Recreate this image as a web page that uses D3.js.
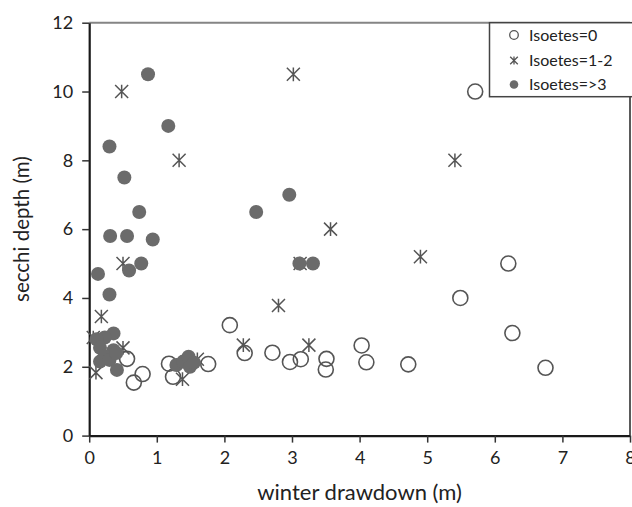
<!DOCTYPE html>
<html><head><meta charset="utf-8">
<script src="https://cdn.jsdelivr.net/npm/d3@7"></script>
<style>html,body{margin:0;padding:0;background:#fff;} svg{display:block;font-family:Lato,'Open Sans',sans-serif;}</style>
</head><body><svg id="c" width="632" height="507"></svg>
<script>
const xTicks = [0,1,2,3,4,5,6,7,8];
const yTicks = [0,2,4,6,8,10,12];
const xTitle = "winter drawdown (m)";
const yTitle = "secchi depth (m)";
const seriesNames = ["Isoetes=0","Isoetes=1-2","Isoetes=>3"];
// [winter drawdown, secchi depth]
const isoetes0 = [[0.56,2.23],[0.66,1.54],[0.79,1.79],[1.18,2.09],[1.24,1.71],[1.76,2.08],[2.08,3.21],[2.30,2.40],[2.71,2.41],[2.97,2.14],[3.13,2.22],[3.51,2.23],[3.50,1.92],[4.03,2.62],[4.10,2.13],[4.72,2.07],[5.49,4.0],[5.71,10.0],[6.20,5.0],[6.26,2.98],[6.75,1.97]];
const isoetes12 = [[0.10,1.83],[0.06,2.85],[0.18,3.46],[0.50,2.55],[0.50,5.0],[0.48,10.0],[1.33,8.0],[1.38,1.64],[1.60,2.22],[2.28,2.63],[2.80,3.78],[3.02,10.5],[3.12,5.0],[3.25,2.63],[3.57,6.0],[4.90,5.2],[5.41,8.0]];
const isoetes3 = [[0.87,10.5],[1.17,9.0],[0.30,8.4],[0.52,7.5],[0.74,6.5],[2.47,6.5],[2.96,7.0],[0.31,5.8],[0.56,5.8],[0.94,5.7],[0.77,5.0],[0.59,4.8],[0.13,4.7],[0.30,4.1],[3.11,5.0],[3.31,5.0],[0.36,2.97],[0.23,2.85],[0.11,2.8],[0.16,2.55],[0.36,2.48],[0.23,2.3],[0.16,2.15],[0.30,2.2],[0.41,1.91],[0.40,2.4],[1.29,2.05],[1.39,2.15],[1.47,2.29],[1.49,2.0],[1.55,2.12]];

const svg = d3.select("#c");
const L = 89.2, R = 630, T = 22.7, B = 435.6;
const x = d3.scaleLinear().domain([0,8]).range([L,R]);
const y = d3.scaleLinear().domain([0,12]).range([B,T]);

// frame top/right
svg.append("line").attr("x1",L).attr("x2",R).attr("y1",T).attr("y2",T).attr("stroke","#858585").attr("stroke-width",2);
svg.append("line").attr("x1",R).attr("x2",R).attr("y1",T).attr("y2",B).attr("stroke","#5a5a5a").attr("stroke-width",2);

const ax = svg.append("g").attr("transform",`translate(0,${B})`)
  .call(d3.axisBottom(x).tickValues(xTicks).tickSize(7).tickPadding(9).tickSizeOuter(0));
const ay = svg.append("g").attr("transform",`translate(${L},0)`)
  .call(d3.axisLeft(y).tickValues(yTicks).tickSize(7).tickPadding(9).tickSizeOuter(0));
[ax,ay].forEach(g=>{
  g.select(".domain").attr("stroke","#1a1a1a").attr("stroke-width",2.2);
  g.selectAll(".tick line").attr("stroke","#333").attr("stroke-width",1.5);
  g.selectAll(".tick text").attr("fill","#222").style("font-size","18px").style("font-family","Lato,'Open Sans',sans-serif");
});

svg.append("text").attr("x",(L+R)/2).attr("y",500).attr("text-anchor","middle")
  .attr("fill","#222").style("font-size","22px").text(xTitle);
svg.append("text").attr("transform",`translate(29,${(T+B)/2}) rotate(-90)`).attr("text-anchor","middle")
  .attr("fill","#222").style("font-size","20.5px").text(yTitle);

const starPath = s => `M${-s},${-s}L${s},${s}M${-s},${s}L${s},${-s}M0,${-s*1.05}L0,${s*1.05}`;

const gPts = svg.append("g");
gPts.selectAll("circle.o").data(isoetes0).join("circle").attr("class","o")
  .attr("cx",d=>x(d[0])).attr("cy",d=>y(d[1])).attr("r",7.5)
  .attr("fill","none").attr("stroke","#555").attr("stroke-width",1.6);
gPts.selectAll("path.s").data(isoetes12).join("path").attr("class","s")
  .attr("transform",d=>`translate(${x(d[0])},${y(d[1])})`).attr("d",starPath(6.5))
  .attr("fill","none").attr("stroke","#555").attr("stroke-width",1.5);
gPts.selectAll("circle.f").data(isoetes3).join("circle").attr("class","f")
  .attr("cx",d=>x(d[0])).attr("cy",d=>y(d[1])).attr("r",7)
  .attr("fill","#6b6b6b");

// legend
const lg = svg.append("g");
lg.append("rect").attr("x",489.5).attr("y",T).attr("width",150).attr("height",74)
  .attr("fill","#fff").attr("stroke","#444").attr("stroke-width",1.5);
const ly = [35,60.5,84.5];
seriesNames.forEach((n,i)=>{
  const g = lg.append("g").attr("transform",`translate(514,${ly[i]})`);
  if(i===0) g.append("circle").attr("r",4.3).attr("fill","none").attr("stroke","#555").attr("stroke-width",1.3);
  if(i===1) g.append("path").attr("d",starPath(3.8)).attr("fill","none").attr("stroke","#555").attr("stroke-width",1.3);
  if(i===2) g.append("circle").attr("r",4.3).attr("fill","#6b6b6b");
  lg.append("text").attr("x",529).attr("y",ly[i]).attr("dy","0.35em").attr("fill","#222")
    .style("font-size","16px").text(n);
});
</script></body></html>
